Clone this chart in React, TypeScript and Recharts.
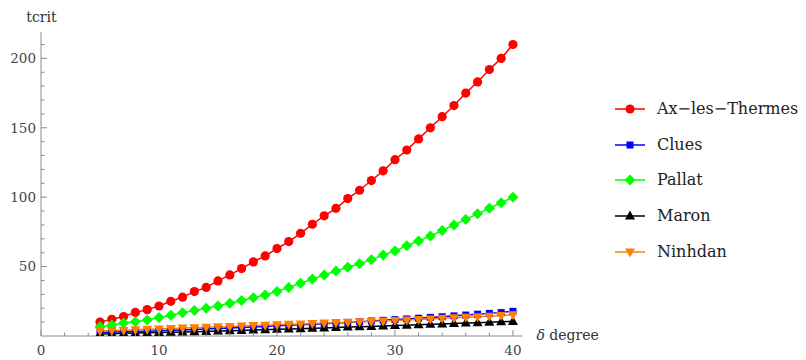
import React from 'react';
import { LineChart, Line, XAxis, YAxis, Legend } from 'recharts';

const delta = [5, 6, 7, 8, 9, 10, 11, 12, 13, 14, 15, 16, 17, 18, 19, 20, 21, 22, 23, 24, 25, 26, 27, 28, 29, 30, 31, 32, 33, 34, 35, 36, 37, 38, 39, 40];
const axLesThermes = [10, 12, 14, 17, 19, 21.6, 25, 28, 32, 35, 39.7, 44, 48.6, 53.4, 57.7, 63, 68, 74, 80.5, 86.6, 92, 99, 105, 112, 119, 127, 134, 142, 150, 158, 166, 175, 183, 192, 200, 210];
const clues = [2.5, 2.8, 3.0, 3.3, 3.5, 3.8, 4.1, 4.4, 4.7, 5.0, 5.4, 5.7, 6.1, 6.5, 6.9, 7.3, 7.7, 8.1, 8.5, 8.9, 9.4, 9.8, 10.3, 10.8, 11.3, 11.8, 12.3, 12.8, 13.4, 13.9, 14.5, 15.1, 15.7, 16.3, 16.9, 17.8];
const pallat = [6.7, 7.9, 9.4, 10.3, 11.5, 13.3, 15, 16.8, 18.3, 20, 21.7, 23.6, 25.5, 27.6, 29.6, 32, 35, 38, 41, 44, 46.8, 49.5, 52, 55, 58.4, 61.3, 65, 68.5, 72, 76, 80, 84, 88, 92, 96, 100];
const maron = [1.5, 1.7, 1.9, 2.1, 2.3, 2.5, 2.7, 2.9, 3.1, 3.3, 3.6, 3.8, 4.0, 4.3, 4.5, 4.8, 5.0, 5.3, 5.5, 5.8, 6.1, 6.4, 6.6, 6.9, 7.2, 7.5, 7.8, 8.1, 8.4, 8.7, 9.0, 9.3, 9.6, 9.9, 10.2, 10.5];
const ninhdan = [3.6, 3.9, 4.2, 4.5, 4.8, 5.1, 5.4, 5.7, 6.0, 6.3, 6.6, 6.9, 7.2, 7.5, 7.8, 8.1, 8.4, 8.7, 9.0, 9.3, 9.6, 9.9, 10.2, 10.5, 10.8, 11.2, 11.5, 11.9, 12.3, 12.7, 13.1, 13.5, 13.9, 14.3, 14.8, 15.3];

const xTicks = [0, 2, 4, 6, 8, 10, 12, 14, 16, 18, 20, 22, 24, 26, 28, 30, 32, 34, 36, 38, 40];
const xLabels = [0, 10, 20, 30, 40];
const yTicks = [10, 20, 30, 40, 50, 60, 70, 80, 90, 100, 110, 120, 130, 140, 150, 160, 170, 180, 190, 200, 210];
const yLabels = [50, 100, 150, 200];

const seriesNames = ['Ax\u2212les\u2212Thermes', 'Clues', 'Pallat', 'Maron', 'Ninhdan'];
const seriesKeys = ['ax', 'clues', 'pallat', 'maron', 'ninhdan'];
const seriesColors = ['#ff0000', '#0000ff', '#00ff00', '#000000', '#ff8000'];
const seriesShapes = ['circle', 'square', 'diamond', 'up', 'down'];

const data = delta.map((d, i) => ({
  delta: d,
  ax: axLesThermes[i],
  clues: clues[i],
  pallat: pallat[i],
  maron: maron[i],
  ninhdan: ninhdan[i],
}));

const FONT = "'DejaVu Serif', serif";
const AXIS = '#8c8c8c';
const LABEL = '#444';

function Marker({ shape, cx, cy, color }: any) {
  if (cx == null || cy == null) return null;
  switch (shape) {
    case 'circle':
      return <circle cx={cx} cy={cy} r={4.6} fill={color} />;
    case 'square':
      return <rect x={cx - 3.5} y={cy - 3.5} width={7} height={7} fill={color} />;
    case 'diamond':
      return <polygon points={`${cx},${cy - 5.5} ${cx + 5.5},${cy} ${cx},${cy + 5.5} ${cx - 5.5},${cy}`} fill={color} />;
    case 'up':
      return <polygon points={`${cx},${cy - 5.5} ${cx + 5},${cy + 3.5} ${cx - 5},${cy + 3.5}`} fill={color} />;
    case 'down':
      return <polygon points={`${cx},${cy + 5.5} ${cx + 5},${cy - 3.5} ${cx - 5},${cy - 3.5}`} fill={color} />;
    default:
      return null;
  }
}

function XTick(props: any) {
  const { x, y, payload } = props;
  const major = xLabels.includes(payload.value);
  return (
    <g>
      <line x1={x} x2={x} y1={y} y2={y - (major ? 6 : 3.5)} stroke={AXIS} strokeWidth={1} />
      {major && (
        <text x={x} y={y + 18.5} textAnchor="middle" fontFamily={FONT} fontSize={13.5} fill={LABEL}>
          {payload.value}
        </text>
      )}
    </g>
  );
}

function YTick(props: any) {
  const { x, y, payload } = props;
  const major = yLabels.includes(payload.value);
  return (
    <g>
      <line x1={x} x2={x + (major ? 6 : 3.5)} y1={y} y2={y} stroke={AXIS} strokeWidth={1} />
      {major && (
        <text x={x - 5} y={y} dy="0.35em" textAnchor="end" fontFamily={FONT} fontSize={13.5} fill={LABEL}>
          {payload.value}
        </text>
      )}
    </g>
  );
}

function LegendContent() {
  return (
    <div style={{ fontFamily: FONT, fontSize: 16, color: '#222' }}>
      {seriesNames.map((name, i) => (
        <div key={name} style={{ display: 'flex', alignItems: 'center', height: 35.8 }}>
          <svg width={30} height={20} style={{ display: 'block', flexShrink: 0 }}>
            <line x1={0} x2={30} y1={10} y2={10} stroke={seriesColors[i]} strokeWidth={1.5} />
            <Marker shape={seriesShapes[i]} cx={15} cy={10} color={seriesColors[i]} />
          </svg>
          <span style={{ marginLeft: 12, whiteSpace: 'nowrap', lineHeight: '20px' }}>{name}</span>
        </div>
      ))}
    </div>
  );
}

export default function App() {
  return (
    <LineChart width={790} height={352} data={data} margin={{ top: 24, right: 75.6, bottom: 8, left: 0 }}>
      <XAxis
        dataKey="delta"
        type="number"
        domain={[0, 40.8]}
        ticks={xTicks}
        interval={0}
        allowDataOverflow
        height={16}
        tickSize={0}
        tickMargin={0}
        tickLine={false}
        tick={<XTick />}
        stroke={AXIS}
        label={{
          content: (p: any) => {
            const vb = p.viewBox;
            return (
              <text x={vb.x + vb.width + 14} y={vb.y + 4} fontFamily={FONT} fontSize={14} fill="#333">
                <tspan fontStyle="italic">δ</tspan> degree
              </text>
            );
          },
        }}
      />
      <YAxis
        type="number"
        domain={[0, 219]}
        ticks={yTicks}
        interval={0}
        allowDataOverflow
        width={33}
        tickSize={0}
        tickMargin={0}
        tickLine={false}
        tick={<YTick />}
        stroke={AXIS}
        label={{
          content: (p: any) => {
            const vb = p.viewBox;
            return (
              <text x={vb.x + vb.width + 0.5} y={vb.y - 10} textAnchor="middle" fontFamily={FONT} fontSize={14} fill="#333">
                tcrit
              </text>
            );
          },
        }}
      />
      <Legend
        layout="vertical"
        align="right"
        verticalAlign="top"
        content={<LegendContent />}
        wrapperStyle={{ left: 607, top: 83, width: 200 }}
      />
      {seriesKeys.map((k, i) => (
        <Line
          key={k}
          dataKey={k}
          name={seriesNames[i]}
          stroke={seriesColors[i]}
          strokeWidth={1.5}
          isAnimationActive={false}
          type="linear"
          dot={(p: any) => <Marker key={`${k}-${p.index}`} shape={seriesShapes[i]} cx={p.cx} cy={p.cy} color={seriesColors[i]} />}
          activeDot={false}
        />
      ))}
    </LineChart>
  );
}
